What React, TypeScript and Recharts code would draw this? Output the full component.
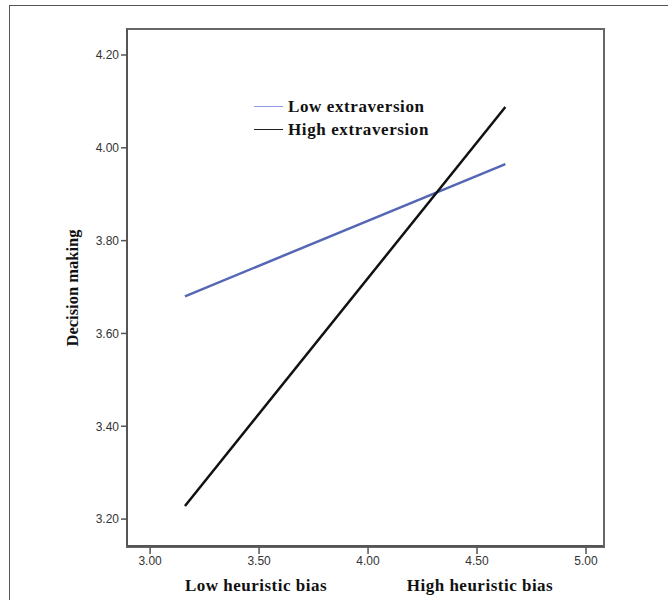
import React from 'react';
import { LineChart, Line, XAxis, YAxis } from 'recharts';

const xValues = [3.16, 4.63];
const lowExtraversion = [3.68, 3.965];
const highExtraversion = [3.228, 4.088];
const xTicks = [3.0, 3.5, 4.0, 4.5, 5.0];
const yTicks = [3.2, 3.4, 3.6, 3.8, 4.0, 4.2];
const seriesNames = ['Low extraversion', 'High extraversion'];
const seriesLegendColors = ['#8f9ae0', '#222'];
const xGroupLabels = ['Low heuristic bias', 'High heuristic bias'];
const yTitle = 'Decision making';

const data = xValues.map((x, i) => ({ x, low: lowExtraversion[i], high: highExtraversion[i] }));

const serif = '"Liberation Serif", "DejaVu Serif", serif';
const sans = '"Liberation Sans", Arial, sans-serif';
const tickStyle = { fontFamily: sans, fontSize: 12, fill: '#333' };

export default function App() {
  return (
    <div style={{ position: 'absolute', left: 0, top: 0, width: 668, height: 600, background: '#fff', overflow: 'hidden' }}>
      <div style={{ position: 'absolute', left: 9, top: 5, width: 700, height: 700, border: '1px solid #555' }} />
      <div style={{ position: 'absolute', left: 126, top: 28, width: 475, height: 516, border: '2px solid #666', pointerEvents: 'none' }} />
      <LineChart width={668} height={600} data={data} margin={{ top: 29, left: 87, right: 65, bottom: 24 }} style={{ position: 'absolute', left: 0, top: 0 }}>
        <XAxis
          dataKey="x"
          type="number"
          domain={[2.894, 5.078]}
          ticks={xTicks}
          tickFormatter={(v: number) => v.toFixed(2)}
          tick={tickStyle}
          axisLine={{ stroke: '#555', strokeWidth: 2 }}
          tickLine={{ stroke: '#555', strokeWidth: 1.5 }}
          tickSize={8}
          height={30}
          allowDataOverflow
        />
        <YAxis
          type="number"
          domain={[3.142, 4.256]}
          ticks={yTicks}
          tickFormatter={(v: number) => v.toFixed(2)}
          tick={tickStyle}
          axisLine={{ stroke: '#555', strokeWidth: 2 }}
          tickLine={{ stroke: '#555', strokeWidth: 1.5 }}
          tickSize={6}
          width={40}
          allowDataOverflow
        />
        <Line dataKey="low" name={seriesNames[0]} stroke="#5566b5" strokeWidth={2.5} dot={false} isAnimationActive={false} />
        <Line dataKey="high" name={seriesNames[1]} stroke="#111" strokeWidth={2.5} dot={false} isAnimationActive={false} />
      </LineChart>
      <div style={{ position: 'absolute', left: 73 - 80, top: 288 - 12, width: 160, height: 24, lineHeight: '24px', textAlign: 'center', transform: 'rotate(-90deg)', fontFamily: serif, fontWeight: 'bold', fontSize: 16.5, color: '#111', whiteSpace: 'nowrap' }}>{yTitle}</div>
      <div style={{ position: 'absolute', left: 254, top: 95, fontFamily: serif, fontWeight: 'bold', fontSize: 17, letterSpacing: 0.6, color: '#111', lineHeight: '23px' }}>
        {seriesNames.map((n, i) => (
          <div key={n} style={{ display: 'flex', alignItems: 'center' }}>
            <span style={{ display: 'inline-block', width: 29, height: 0, borderTop: `1.5px solid ${seriesLegendColors[i]}`, marginRight: 5 }} />
            <span>{n}</span>
          </div>
        ))}
      </div>
      {xGroupLabels.map((t, i) => (
        <div key={t} style={{ position: 'absolute', top: 576, left: (i === 0 ? 256 : 480) - 100, width: 200, textAlign: 'center', fontFamily: serif, fontWeight: 'bold', fontSize: 17, letterSpacing: 0.5, color: '#111', whiteSpace: 'nowrap' }}>{t}</div>
      ))}
    </div>
  );
}
